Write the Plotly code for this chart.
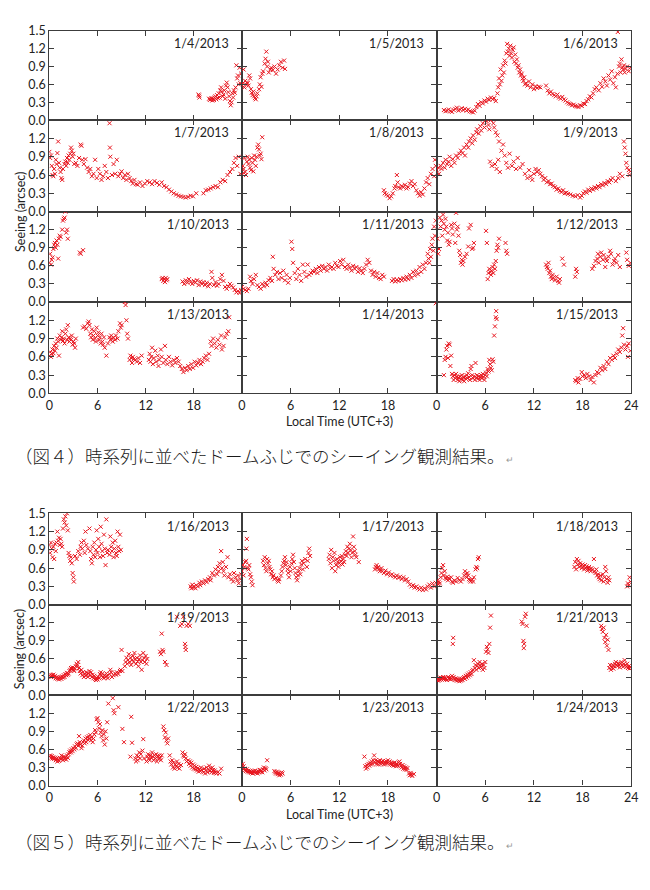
import plotly.graph_objects as go

# seeing (arcsec) against local time (hours, UTC+3), one list per day
jan04 = [(18.6, 0.43), (18.65, 0.41), (18.7, 0.38), (19.9, 0.36), (20.0, 0.34), (20.1, 0.35), (20.2, 0.37),
         (20.3, 0.33), (20.4, 0.36), (20.5, 0.34), (20.6, 0.38), (20.7, 0.40), (20.8, 0.35), (20.9, 0.42),
         (21.0, 0.37), (21.1, 0.45), (21.2, 0.38), (21.3, 0.50), (21.4, 0.55), (21.5, 0.48), (21.6, 0.40),
         (21.7, 0.43), (21.8, 0.50), (21.9, 0.36), (22.0, 0.58), (22.1, 0.63), (22.2, 0.55), (22.3, 0.47),
         (22.4, 0.40), (22.5, 0.32), (22.6, 0.25), (22.7, 0.30), (22.8, 0.45), (22.9, 0.38), (23.0, 0.50),
         (23.1, 0.46), (23.2, 0.55), (23.3, 0.92), (23.4, 0.70), (23.5, 0.75), (23.6, 0.60), (23.7, 0.88),
         (23.8, 0.62), (23.9, 0.78)]
jan05 = [(0.0, 0.58), (0.1, 0.62), (0.2, 0.85), (0.3, 0.55), (0.4, 0.66), (0.5, 0.60), (0.6, 0.63), (0.7, 0.62),
         (0.8, 0.58), (0.9, 0.75), (1.0, 0.70), (1.1, 0.52), (1.2, 0.46), (1.3, 0.42), (1.4, 0.48), (1.5, 0.40),
         (1.6, 0.37), (1.7, 0.35), (1.8, 0.40), (1.9, 0.45), (2.1, 0.52), (2.2, 0.60), (2.3, 0.72), (2.4, 0.56),
         (2.5, 0.78), (2.6, 0.82), (2.8, 0.95), (2.9, 1.03), (3.0, 1.15), (3.1, 0.90), (3.2, 0.98), (3.3, 0.80),
         (3.5, 0.85), (3.6, 0.88), (3.8, 0.84), (4.0, 0.90), (4.2, 0.78), (4.4, 0.85), (4.6, 0.92), (4.8, 0.98),
         (5.0, 0.88), (5.2, 1.00), (5.3, 0.86)]
jan06 = [(0.9, 0.17), (1.1, 0.15), (1.3, 0.16), (1.5, 0.18), (1.7, 0.15), (1.9, 0.14), (2.1, 0.17), (2.3, 0.19),
         (2.5, 0.21), (2.7, 0.16), (2.9, 0.18), (3.1, 0.20), (3.3, 0.17), (3.5, 0.19), (3.7, 0.16), (3.9, 0.18),
         (4.1, 0.15), (4.3, 0.14), (4.5, 0.13), (4.7, 0.16), (4.9, 0.22), (5.1, 0.27), (5.3, 0.24), (5.5, 0.30),
         (5.7, 0.28), (5.9, 0.33), (6.1, 0.31), (6.3, 0.36), (6.5, 0.34), (6.7, 0.38), (6.9, 0.35), (7.1, 0.37),
         (7.3, 0.32), (7.5, 0.45), (7.6, 0.55), (7.7, 0.70), (7.8, 0.60), (7.9, 0.85), (8.0, 0.66), (8.1, 0.75),
         (8.2, 0.92), (8.3, 0.80), (8.4, 1.00), (8.5, 0.95), (8.6, 1.12), (8.7, 1.28), (8.8, 1.15), (8.9, 1.20),
         (9.0, 1.08), (9.1, 1.25), (9.2, 1.12), (9.3, 1.05), (9.4, 1.18), (9.5, 1.22), (9.6, 0.98), (9.7, 1.10),
         (9.8, 0.95), (9.9, 1.02), (10.0, 0.88), (10.1, 0.92), (10.2, 0.80), (10.3, 0.85), (10.4, 0.75),
         (10.5, 0.78), (10.6, 0.70), (10.7, 0.66), (10.8, 0.72), (10.9, 0.60), (11.0, 0.62), (11.2, 0.58),
         (11.4, 0.65), (11.6, 0.55), (11.8, 0.60), (12.0, 0.52), (12.2, 0.57), (12.4, 0.54), (12.6, 0.56),
         (12.8, 0.55), (13.5, 0.58), (13.7, 0.50), (13.9, 0.45), (14.1, 0.48), (14.3, 0.44), (14.5, 0.42),
         (14.7, 0.40), (14.9, 0.43), (15.1, 0.38), (15.3, 0.36), (15.5, 0.39), (15.7, 0.35), (15.9, 0.33),
         (16.1, 0.30), (16.3, 0.28), (16.5, 0.27), (16.7, 0.25), (16.9, 0.26), (17.1, 0.24), (17.3, 0.23),
         (17.5, 0.22), (17.7, 0.25), (17.9, 0.24), (18.1, 0.28), (18.3, 0.27), (18.5, 0.32), (18.7, 0.35),
         (18.9, 0.40), (19.1, 0.38), (19.3, 0.45), (19.5, 0.52), (19.7, 0.55), (20.0, 0.50), (20.2, 0.62),
         (20.4, 0.56), (20.6, 0.70), (20.8, 0.65), (21.0, 0.58), (21.2, 0.75), (21.4, 0.68), (21.6, 0.82),
         (21.8, 0.62), (22.0, 0.72), (22.1, 0.55), (22.3, 0.78), (22.35, 1.48), (22.5, 0.90), (22.6, 0.95),
         (22.7, 0.80), (22.8, 1.02), (22.9, 0.88), (23.0, 0.85), (23.1, 0.92), (23.2, 0.80), (23.3, 0.86),
         (23.5, 0.90), (23.7, 0.82), (23.9, 0.88)]
jan07 = [(0.0, 0.98), (0.1, 0.88), (0.2, 0.92), (0.3, 0.75), (0.4, 0.60), (0.5, 0.58), (0.6, 0.70), (0.7, 0.62),
         (0.8, 0.85), (0.9, 0.78), (1.0, 0.96), (1.1, 1.15), (1.2, 0.80), (1.3, 0.72), (1.4, 0.65), (1.5, 0.55),
         (1.6, 0.52), (1.7, 0.70), (1.9, 0.78), (2.0, 0.82), (2.1, 0.75), (2.2, 0.88), (2.3, 0.80), (2.4, 0.92),
         (2.5, 0.85), (2.6, 0.95), (2.7, 1.05), (2.8, 1.00), (2.9, 0.90), (3.0, 0.95), (3.1, 0.78), (3.3, 0.80),
         (3.5, 0.75), (3.7, 0.88), (3.9, 1.10), (4.0, 1.08), (4.1, 0.85), (4.3, 0.78), (4.5, 0.86), (4.7, 0.72),
         (4.9, 0.65), (5.1, 0.70), (5.3, 0.58), (5.5, 0.62), (5.7, 0.85), (5.9, 0.55), (6.1, 0.70), (6.3, 0.62),
         (6.5, 0.52), (6.7, 0.58), (6.9, 0.75), (7.1, 0.65), (7.3, 0.55), (7.5, 1.45), (7.55, 1.05), (7.6, 0.90),
         (7.8, 0.60), (8.0, 0.78), (8.2, 0.62), (8.4, 0.85), (8.6, 0.58), (8.8, 0.62), (9.0, 0.66), (9.2, 0.55),
         (9.4, 0.60), (9.6, 0.52), (9.8, 0.62), (10.0, 0.55), (10.2, 0.50), (10.4, 0.46), (10.6, 0.52),
         (10.8, 0.45), (11.0, 0.44), (11.3, 0.48), (11.6, 0.42), (11.9, 0.46), (12.2, 0.50), (12.5, 0.48),
         (12.8, 0.45), (13.1, 0.50), (13.4, 0.47), (13.7, 0.44), (14.0, 0.48), (14.3, 0.42), (14.6, 0.40),
         (14.9, 0.36), (15.2, 0.33), (15.5, 0.30), (15.8, 0.28), (16.1, 0.26), (16.4, 0.25), (16.7, 0.24),
         (17.0, 0.23), (17.3, 0.24), (17.6, 0.26), (17.9, 0.25), (18.3, 0.30), (19.2, 0.30), (19.5, 0.35),
         (19.8, 0.36), (20.1, 0.38), (20.4, 0.40), (20.7, 0.42), (21.0, 0.40), (21.3, 0.48), (21.6, 0.52),
         (21.9, 0.50), (22.2, 0.60), (22.5, 0.65), (22.8, 0.70), (23.0, 0.80), (23.2, 0.88), (23.4, 0.75),
         (23.6, 0.90), (23.8, 0.62)]
jan08 = [(0.0, 0.62), (0.1, 0.75), (0.2, 0.70), (0.3, 0.88), (0.4, 0.65), (0.5, 0.60), (0.6, 0.82), (0.7, 0.90),
         (0.8, 0.78), (0.9, 0.85), (1.0, 0.72), (1.1, 0.68), (1.2, 0.88), (1.3, 0.80), (1.4, 0.66), (1.5, 0.92),
         (1.6, 0.85), (1.7, 0.75), (1.8, 0.90), (1.9, 1.05), (2.0, 1.10), (2.1, 1.02), (2.2, 0.92), (2.3, 0.95),
         (2.4, 0.86), (2.5, 1.22), (17.5, 0.35), (17.6, 0.30), (17.8, 0.28), (18.0, 0.26), (18.2, 0.22),
         (18.4, 0.25), (18.6, 0.30), (18.8, 0.38), (18.9, 0.42), (19.1, 0.60), (19.2, 0.48), (19.3, 0.40),
         (19.5, 0.38), (19.7, 0.42), (19.9, 0.40), (20.1, 0.44), (20.3, 0.38), (20.5, 0.40), (20.7, 0.46),
         (20.9, 0.50), (21.1, 0.42), (21.3, 0.45), (21.5, 0.35), (21.7, 0.30), (21.9, 0.26), (22.1, 0.32),
         (22.3, 0.28), (22.5, 0.38), (22.7, 0.48), (22.9, 0.55), (23.1, 0.45), (23.3, 0.62), (23.5, 0.70),
         (23.7, 0.58), (23.8, 0.85), (23.9, 0.75)]
jan09 = [(0.0, 0.68), (0.2, 0.72), (0.3, 0.62), (0.5, 0.75), (0.6, 0.70), (0.8, 0.80), (1.0, 0.72), (1.1, 0.85),
         (1.3, 0.78), (1.5, 0.82), (1.6, 0.90), (1.8, 0.75), (2.0, 0.86), (2.2, 0.80), (2.4, 0.92), (2.6, 0.88),
         (2.8, 0.95), (3.0, 1.00), (3.2, 0.96), (3.4, 1.05), (3.5, 0.92), (3.7, 1.10), (3.9, 1.05), (4.0, 1.15),
         (4.2, 1.20), (4.4, 1.12), (4.5, 1.25), (4.7, 1.18), (4.9, 1.30), (5.0, 1.35), (5.2, 1.28), (5.4, 1.40),
         (5.5, 1.33), (5.7, 1.45), (5.9, 1.38), (6.0, 1.50), (6.2, 1.48), (6.4, 1.42), (6.5, 1.35), (6.7, 1.50),
         (7.0, 1.45), (7.1, 1.38), (7.3, 1.30), (7.5, 1.25), (7.7, 1.15), (6.6, 0.82), (6.8, 0.75), (7.2, 0.78),
         (7.4, 0.70), (7.6, 0.85), (7.8, 0.65), (8.0, 1.00), (8.2, 1.10), (8.4, 0.92), (8.6, 0.80), (8.8, 0.72),
         (9.0, 0.95), (9.3, 0.75), (9.5, 0.82), (9.8, 0.70), (10.0, 0.88), (10.3, 0.72), (10.6, 0.78),
         (10.9, 0.62), (11.2, 0.55), (11.4, 0.68), (11.6, 0.58), (11.8, 0.52), (12.0, 0.62), (12.2, 0.70),
         (12.4, 0.65), (12.6, 0.68), (12.8, 0.62), (13.0, 0.58), (13.2, 0.52), (13.4, 0.55), (13.6, 0.48),
         (13.8, 0.50), (14.0, 0.45), (14.2, 0.46), (14.4, 0.42), (14.6, 0.40), (14.8, 0.36), (15.0, 0.38),
         (15.2, 0.34), (15.4, 0.32), (15.6, 0.35), (15.8, 0.30), (16.0, 0.31), (16.2, 0.29), (16.5, 0.28),
         (16.8, 0.26), (17.1, 0.25), (17.4, 0.27), (17.7, 0.23), (17.9, 0.26), (18.1, 0.30), (18.3, 0.33),
         (18.5, 0.31), (18.7, 0.36), (18.9, 0.34), (19.1, 0.38), (19.3, 0.36), (19.5, 0.40), (19.7, 0.38),
         (19.9, 0.42), (20.1, 0.40), (20.3, 0.45), (20.5, 0.43), (20.7, 0.47), (20.9, 0.45), (21.1, 0.50),
         (21.3, 0.48), (21.5, 0.52), (21.7, 0.55), (22.1, 0.50), (22.4, 0.55), (22.6, 0.62), (22.9, 0.58),
         (23.1, 1.15), (23.2, 1.05), (23.3, 0.95), (23.4, 0.80), (23.5, 0.72), (23.7, 0.68), (23.8, 0.60),
         (23.9, 0.66)]
jan10 = [(0.0, 0.65), (0.1, 0.80), (0.2, 0.62), (0.3, 0.70), (0.4, 0.74), (0.5, 0.88), (0.6, 0.95), (0.7, 0.98),
         (0.8, 0.90), (0.9, 1.02), (1.0, 0.95), (1.1, 0.72), (1.2, 1.05), (1.3, 1.10), (1.4, 1.08), (1.6, 1.20),
         (1.7, 1.35), (1.8, 1.38), (1.9, 1.40), (2.0, 1.50), (2.1, 1.15), (2.2, 1.20), (2.3, 1.05), (3.8, 0.82),
         (3.9, 0.80), (4.2, 0.86), (14.0, 0.38), (14.1, 0.40), (14.2, 0.35), (14.3, 0.38), (14.4, 0.33),
         (14.5, 0.40), (14.6, 0.36), (14.7, 0.38), (16.6, 0.34), (16.8, 0.30), (17.0, 0.36), (17.2, 0.32),
         (17.4, 0.38), (17.6, 0.33), (17.8, 0.30), (18.0, 0.35), (18.2, 0.32), (18.4, 0.36), (18.6, 0.28),
         (18.8, 0.34), (19.0, 0.30), (19.2, 0.33), (19.4, 0.28), (19.6, 0.32), (19.8, 0.26), (20.0, 0.30),
         (20.2, 0.50), (20.3, 0.40), (20.5, 0.28), (20.7, 0.33), (20.9, 0.27), (21.1, 0.30), (21.3, 0.38),
         (21.5, 0.45), (21.7, 0.35), (21.9, 0.25), (22.1, 0.22), (22.3, 0.26), (22.5, 0.30), (22.7, 0.27),
         (22.9, 0.24), (23.1, 0.20), (23.3, 0.16), (23.5, 0.18), (23.7, 0.15), (23.9, 0.20)]
jan11 = [(0.0, 0.25), (0.2, 0.22), (0.4, 0.20), (0.6, 0.18), (0.8, 0.22), (1.0, 0.42), (1.1, 0.35), (1.3, 0.30),
         (1.5, 0.38), (1.7, 0.45), (1.9, 0.28), (2.1, 0.25), (2.3, 0.22), (2.5, 0.30), (2.7, 0.26), (2.9, 0.32),
         (3.1, 0.28), (3.3, 0.36), (3.5, 0.40), (3.7, 0.35), (3.8, 0.75), (3.9, 0.55), (4.1, 0.45), (4.3, 0.50),
         (4.5, 0.38), (4.7, 0.48), (4.9, 0.40), (5.1, 0.52), (5.3, 0.36), (5.5, 0.45), (5.7, 0.32), (5.9, 0.40),
         (6.1, 1.00), (6.2, 0.88), (6.3, 0.65), (6.5, 0.48), (6.7, 0.38), (6.9, 0.55), (7.1, 0.45), (7.3, 0.35),
         (7.5, 0.62), (7.7, 0.50), (7.9, 0.42), (8.1, 0.62), (8.3, 0.45), (8.5, 0.48), (8.7, 0.52), (8.9, 0.50),
         (9.1, 0.55), (9.3, 0.48), (9.5, 0.58), (9.7, 0.52), (9.9, 0.60), (10.1, 0.55), (10.3, 0.58),
         (10.5, 0.52), (10.7, 0.62), (10.9, 0.56), (11.1, 0.58), (11.3, 0.55), (11.5, 0.65), (11.7, 0.60),
         (11.9, 0.58), (12.1, 0.68), (12.3, 0.62), (12.5, 0.70), (12.7, 0.58), (12.9, 0.55), (13.1, 0.62),
         (13.3, 0.57), (13.5, 0.52), (13.7, 0.60), (13.9, 0.55), (14.1, 0.58), (14.3, 0.50), (14.5, 0.56),
         (14.7, 0.52), (14.9, 0.48), (15.1, 0.55), (15.3, 0.62), (15.5, 0.70), (15.7, 0.65), (15.9, 0.52),
         (16.1, 0.45), (16.3, 0.50), (16.5, 0.42), (16.7, 0.48), (16.9, 0.40), (17.1, 0.38), (17.3, 0.45),
         (17.5, 0.42), (18.5, 0.35), (18.7, 0.38), (18.9, 0.34), (19.1, 0.37), (19.3, 0.35), (19.5, 0.38),
         (19.7, 0.36), (19.9, 0.40), (20.1, 0.37), (20.3, 0.42), (20.5, 0.38), (20.7, 0.45), (20.9, 0.40),
         (21.1, 0.50), (21.3, 0.44), (21.5, 0.52), (21.7, 0.46), (21.9, 0.58), (22.1, 0.50), (22.3, 0.62),
         (22.5, 0.55), (22.7, 0.65), (22.9, 0.80), (23.0, 0.72), (23.1, 0.65), (23.2, 0.88), (23.3, 0.75),
         (23.4, 0.95), (23.5, 1.05), (23.6, 0.85), (23.7, 1.25), (23.8, 1.10), (23.9, 1.35)]
jan12 = [(0.1, 1.05), (0.2, 0.80), (0.3, 0.88), (0.4, 1.40), (0.5, 1.25), (0.6, 1.35), (0.7, 1.10), (0.8, 1.45),
         (0.9, 1.30), (1.0, 1.20), (1.1, 1.38), (1.2, 1.25), (1.3, 1.02), (1.4, 1.15), (1.5, 0.95), (1.6, 1.00),
         (1.8, 1.28), (1.9, 1.22), (2.0, 1.12), (2.2, 1.30), (2.3, 0.98), (2.4, 1.48), (2.5, 1.20), (2.6, 1.25),
         (2.7, 1.10), (2.8, 0.85), (2.9, 0.78), (3.0, 0.65), (3.1, 0.70), (3.2, 0.62), (3.3, 0.68), (3.5, 0.75),
         (3.7, 0.80), (3.9, 0.92), (4.0, 1.22), (4.2, 1.28), (4.4, 0.88), (4.5, 0.90), (4.6, 0.98), (6.1, 1.18),
         (6.2, 0.98), (6.3, 0.38), (6.4, 0.48), (6.5, 0.55), (6.6, 0.50), (6.7, 0.45), (6.8, 0.52), (6.9, 0.58),
         (7.0, 0.48), (7.1, 0.62), (7.2, 0.55), (7.3, 0.68), (7.4, 0.85), (7.5, 0.95), (7.6, 0.90), (7.7, 1.05),
         (8.5, 0.98), (8.6, 0.85), (8.7, 0.80), (13.5, 0.62), (13.6, 0.58), (13.7, 0.55), (13.8, 0.65),
         (13.9, 0.48), (14.0, 0.52), (14.1, 0.42), (14.2, 0.38), (14.3, 0.45), (14.4, 0.40), (14.6, 0.36),
         (14.8, 0.42), (15.0, 0.35), (15.1, 0.32), (15.2, 0.38), (15.5, 0.72), (15.7, 0.62), (17.1, 0.42),
         (17.2, 0.55), (17.3, 0.50), (19.2, 0.55), (19.4, 0.60), (19.6, 0.68), (19.8, 0.72), (19.9, 0.80),
         (20.0, 0.65), (20.2, 0.75), (20.3, 0.82), (20.5, 0.70), (20.6, 0.78), (20.8, 0.58), (20.9, 0.72),
         (21.0, 0.68), (21.2, 0.75), (21.4, 0.85), (21.5, 0.80), (21.7, 0.62), (21.9, 0.68), (22.0, 0.72),
         (22.2, 0.65), (22.4, 0.78), (22.6, 0.58), (23.4, 0.82), (23.5, 0.70), (23.7, 0.60), (23.9, 0.65)]
jan13 = [(0.0, 0.62), (0.1, 0.68), (0.2, 0.60), (0.3, 0.65), (0.4, 0.72), (0.5, 0.66), (0.6, 0.78), (0.7, 0.70),
         (0.8, 0.82), (0.9, 0.75), (1.0, 0.90), (1.1, 0.85), (1.2, 0.62), (1.3, 0.95), (1.4, 0.88), (1.5, 0.92),
         (1.6, 1.02), (1.7, 0.86), (1.8, 0.90), (1.9, 0.82), (2.0, 0.98), (2.1, 1.05), (2.2, 0.88), (2.3, 1.12),
         (2.4, 0.92), (2.5, 0.85), (2.6, 0.90), (2.7, 0.88), (2.8, 0.95), (2.9, 0.80), (3.0, 0.85), (3.1, 0.82),
         (3.2, 0.75), (3.3, 0.90), (4.2, 1.08), (4.4, 1.10), (4.6, 1.06), (4.8, 1.15), (4.9, 1.18), (5.0, 1.12),
         (5.1, 0.98), (5.2, 0.92), (5.3, 1.05), (5.4, 0.88), (5.5, 0.95), (5.6, 1.02), (5.7, 0.90), (5.8, 0.85),
         (5.9, 1.08), (6.0, 0.95), (6.1, 1.00), (6.2, 0.88), (6.3, 0.92), (6.4, 0.82), (6.5, 0.98), (6.6, 0.85),
         (6.7, 0.80), (6.8, 0.92), (6.9, 0.75), (7.1, 0.62), (7.3, 0.82), (7.5, 0.92), (7.6, 0.88), (7.7, 0.95),
         (7.8, 0.90), (7.9, 0.85), (8.0, 0.92), (8.2, 0.88), (8.3, 0.95), (8.5, 0.90), (8.6, 1.02), (8.8, 1.15),
         (8.9, 1.08), (9.0, 1.12), (9.4, 1.50), (9.5, 1.45), (9.6, 1.20), (9.7, 0.98), (9.8, 0.90), (10.0, 0.55),
         (10.1, 0.62), (10.2, 0.58), (10.3, 0.50), (10.4, 0.60), (10.5, 0.56), (10.7, 0.55), (10.9, 0.52),
         (11.1, 0.58), (11.3, 0.50), (11.5, 0.62), (12.4, 0.55), (12.5, 0.65), (12.6, 0.52), (12.7, 0.60),
         (12.8, 0.75), (12.9, 0.48), (13.0, 0.58), (13.2, 0.70), (13.3, 0.52), (13.5, 0.62), (13.6, 0.45),
         (13.7, 0.55), (13.9, 0.72), (14.0, 0.60), (14.2, 0.50), (14.4, 0.78), (14.5, 0.55), (14.7, 0.48),
         (14.9, 0.60), (15.1, 0.52), (15.3, 0.46), (15.5, 0.55), (15.7, 0.50), (15.9, 0.58), (16.1, 0.52),
         (16.3, 0.45), (16.5, 0.40), (16.7, 0.35), (16.9, 0.42), (17.1, 0.38), (17.3, 0.45), (17.5, 0.40),
         (17.7, 0.48), (17.9, 0.42), (18.1, 0.52), (18.3, 0.46), (18.5, 0.50), (18.7, 0.55), (18.9, 0.48),
         (19.1, 0.52), (19.3, 0.58), (19.5, 0.62), (19.7, 0.55), (19.9, 0.65), (20.1, 0.85), (20.2, 0.78),
         (20.4, 0.90), (20.6, 0.82), (20.8, 0.75), (21.0, 0.88), (21.2, 0.80), (21.4, 0.95), (21.5, 0.72),
         (21.7, 0.78), (21.9, 0.92), (22.1, 0.98), (22.3, 1.02), (22.4, 1.25)]
jan14 = [(23.9, 1.48)]
jan15 = [(0.9, 0.30), (1.0, 0.55), (1.1, 0.60), (1.2, 0.72), (1.3, 0.78), (1.4, 0.58), (1.5, 0.82), (1.6, 0.80),
         (1.7, 0.45), (1.8, 0.62), (1.9, 0.32), (2.0, 0.28), (2.1, 0.22), (2.2, 0.30), (2.3, 0.25), (2.4, 0.32),
         (2.5, 0.27), (2.6, 0.22), (2.7, 0.26), (2.8, 0.20), (2.9, 0.28), (3.0, 0.24), (3.1, 0.30), (3.2, 0.22),
         (3.3, 0.26), (3.4, 0.20), (3.5, 0.28), (3.6, 0.24), (3.7, 0.30), (3.8, 0.25), (3.9, 0.33), (4.0, 0.27),
         (4.1, 0.22), (4.2, 0.40), (4.3, 0.45), (4.4, 0.30), (4.5, 0.25), (4.6, 0.28), (4.7, 0.22), (4.8, 0.50),
         (4.9, 0.26), (5.0, 0.30), (5.1, 0.24), (5.2, 0.28), (5.3, 0.22), (5.4, 0.26), (5.5, 0.30), (5.6, 0.25),
         (5.7, 0.32), (5.8, 0.27), (5.9, 0.22), (6.0, 0.30), (6.1, 0.34), (6.2, 0.28), (6.3, 0.40), (6.4, 0.36),
         (6.5, 0.55), (6.6, 0.48), (6.7, 0.42), (6.8, 0.38), (6.9, 0.56), (7.0, 0.52), (7.1, 0.95), (7.2, 1.10),
         (7.3, 1.25), (7.35, 1.35), (7.4, 1.22), (17.1, 0.22), (17.2, 0.20), (17.4, 0.25), (17.5, 0.18),
         (17.7, 0.24), (17.9, 0.35), (18.0, 0.28), (18.2, 0.30), (18.4, 0.25), (18.6, 0.32), (18.8, 0.28),
         (19.0, 0.22), (19.2, 0.27), (19.4, 0.18), (19.6, 0.30), (19.8, 0.35), (20.0, 0.33), (20.2, 0.42),
         (20.4, 0.38), (20.6, 0.45), (20.8, 0.40), (21.0, 0.52), (21.2, 0.48), (21.4, 0.58), (21.6, 0.55),
         (21.8, 0.62), (22.0, 0.58), (22.2, 0.65), (22.4, 0.72), (22.6, 0.68), (22.8, 0.75), (22.9, 0.95),
         (23.0, 1.07), (23.1, 0.80), (23.3, 0.72), (23.5, 0.78), (23.6, 0.60), (23.7, 0.82), (23.9, 0.70)]
jan16 = [(0.0, 0.98), (0.1, 0.85), (0.2, 1.02), (0.3, 0.92), (0.4, 0.78), (0.5, 0.95), (0.6, 0.75), (0.7, 1.00),
         (0.8, 0.88), (0.9, 1.02), (1.0, 1.20), (1.1, 1.05), (1.2, 1.10), (1.3, 0.98), (1.4, 1.08), (1.5, 1.00),
         (1.6, 0.95), (1.7, 1.25), (1.8, 1.40), (1.9, 1.35), (2.0, 1.45), (2.1, 1.30), (2.2, 1.50), (2.3, 1.22),
         (2.4, 0.85), (2.5, 0.80), (2.6, 0.72), (2.7, 0.78), (2.8, 0.68), (2.9, 0.52), (3.0, 0.45), (3.05, 0.38),
         (3.2, 0.80), (3.4, 0.75), (3.6, 0.88), (3.8, 0.82), (3.9, 0.95), (4.0, 1.02), (4.1, 0.92), (4.3, 1.05),
         (4.4, 0.85), (4.5, 1.20), (4.6, 0.98), (4.8, 0.92), (5.0, 1.25), (5.1, 0.88), (5.2, 0.75), (5.3, 0.68),
         (5.4, 0.95), (5.5, 0.82), (5.6, 1.02), (5.7, 0.78), (5.8, 0.90), (5.9, 1.22), (6.0, 0.85), (6.1, 1.08),
         (6.2, 0.95), (6.3, 0.78), (6.4, 1.28), (6.5, 1.00), (6.6, 0.88), (6.7, 0.80), (6.8, 1.15), (6.9, 0.92),
         (7.0, 0.65), (7.1, 1.40), (7.2, 0.85), (7.3, 0.90), (7.5, 0.82), (7.6, 1.12), (7.7, 0.95), (7.8, 0.88),
         (7.9, 1.02), (8.0, 0.78), (8.1, 0.92), (8.2, 1.05), (8.3, 0.85), (8.4, 0.80), (8.5, 1.20), (8.6, 0.95),
         (8.7, 0.88), (8.8, 1.15), (8.9, 0.90), (17.6, 0.30), (17.7, 0.27), (17.8, 0.33), (17.9, 0.28),
         (18.0, 0.30), (18.2, 0.27), (18.3, 0.32), (18.5, 0.30), (18.7, 0.36), (18.8, 0.32), (19.0, 0.38),
         (19.2, 0.35), (19.4, 0.40), (19.6, 0.37), (19.8, 0.42), (20.0, 0.45), (20.1, 0.40), (20.3, 0.52),
         (20.5, 0.48), (20.7, 0.58), (20.9, 0.50), (21.0, 0.62), (21.1, 0.55), (21.2, 0.68), (21.4, 0.88),
         (21.5, 0.60), (21.6, 0.70), (21.7, 0.55), (21.8, 0.48), (22.0, 0.62), (22.2, 0.78), (22.3, 0.45),
         (22.5, 0.50), (22.7, 0.42), (22.9, 0.38), (23.0, 0.52), (23.2, 0.45), (23.4, 0.40), (23.5, 0.48),
         (23.6, 0.35), (23.8, 0.42), (23.9, 0.50)]
jan17 = [(0.0, 0.55), (0.1, 0.65), (0.2, 0.48), (0.3, 0.62), (0.4, 0.70), (0.5, 0.72), (0.55, 0.92), (0.6, 1.08),
         (0.7, 0.60), (0.8, 0.58), (0.9, 0.65), (1.0, 0.50), (1.1, 0.45), (1.2, 0.38), (1.3, 0.32), (2.6, 0.72),
         (2.7, 0.65), (2.8, 0.78), (2.9, 0.60), (3.0, 0.55), (3.1, 0.75), (3.2, 0.68), (3.3, 0.72), (3.4, 0.62),
         (3.5, 0.58), (3.6, 0.50), (3.7, 0.55), (3.8, 0.45), (3.9, 0.48), (4.0, 0.42), (4.2, 0.44), (4.4, 0.40),
         (4.5, 0.38), (4.6, 0.42), (4.8, 0.48), (4.9, 0.55), (5.0, 0.62), (5.1, 0.68), (5.2, 0.72), (5.3, 0.78),
         (5.4, 0.65), (5.5, 0.70), (5.6, 0.58), (5.7, 0.52), (5.8, 0.45), (5.9, 0.62), (6.0, 0.55), (6.1, 0.68),
         (6.2, 0.75), (6.3, 0.82), (6.4, 0.70), (6.5, 0.60), (6.6, 0.52), (6.7, 0.45), (6.8, 0.40), (6.9, 0.48),
         (7.0, 0.55), (7.1, 0.60), (7.2, 0.50), (7.3, 0.66), (7.4, 0.72), (7.5, 0.58), (7.6, 0.68), (7.8, 0.75),
         (8.0, 0.62), (8.1, 0.72), (8.2, 0.85), (8.3, 0.92), (8.4, 0.80), (10.7, 0.75), (10.8, 0.82), (10.9, 0.68),
         (11.0, 0.90), (11.1, 0.60), (11.2, 0.78), (11.3, 0.72), (11.4, 0.85), (11.5, 0.55), (11.6, 0.65),
         (11.7, 0.75), (11.8, 0.70), (11.9, 0.62), (12.0, 0.68), (12.1, 0.78), (12.2, 0.72), (12.3, 0.80),
         (12.4, 0.66), (12.5, 0.75), (12.6, 0.70), (12.7, 0.82), (12.8, 0.88), (12.9, 0.80), (13.0, 0.95),
         (13.1, 0.85), (13.2, 0.92), (13.3, 1.00), (13.4, 0.90), (13.5, 0.78), (13.6, 0.85), (13.7, 1.12),
         (13.8, 0.95), (13.9, 0.88), (14.0, 0.82), (14.1, 0.78), (14.4, 0.70), (16.4, 0.58), (16.5, 0.62),
         (16.6, 0.65), (16.7, 0.60), (16.8, 0.62), (16.9, 0.58), (17.0, 0.55), (17.2, 0.60), (17.3, 0.55),
         (17.5, 0.52), (17.7, 0.56), (17.9, 0.50), (18.1, 0.53), (18.3, 0.48), (18.5, 0.50), (18.7, 0.47),
         (18.9, 0.45), (19.1, 0.48), (19.3, 0.44), (19.5, 0.46), (19.7, 0.42), (19.9, 0.45), (20.1, 0.40),
         (20.3, 0.42), (20.5, 0.38), (20.7, 0.33), (20.9, 0.30), (21.1, 0.32), (21.3, 0.28), (21.5, 0.30),
         (21.7, 0.27), (21.9, 0.25), (22.1, 0.28), (22.3, 0.24), (22.5, 0.27), (22.7, 0.25), (22.9, 0.30),
         (23.1, 0.33), (23.3, 0.28), (23.5, 0.35), (23.7, 0.30), (23.9, 0.36)]
jan18 = [(0.0, 0.36), (0.1, 0.40), (0.2, 0.34), (0.3, 0.38), (0.4, 0.35), (0.5, 0.45), (0.6, 0.52), (0.7, 0.60),
         (0.8, 0.65), (0.9, 0.48), (1.0, 0.55), (1.1, 0.44), (1.2, 0.42), (1.3, 0.46), (1.4, 0.40), (1.5, 0.44),
         (1.6, 0.42), (1.8, 0.45), (1.9, 0.38), (2.0, 0.36), (2.2, 0.40), (2.4, 0.38), (2.6, 0.44), (2.8, 0.40),
         (3.0, 0.38), (3.2, 0.42), (3.4, 0.48), (3.5, 0.55), (3.6, 0.50), (3.7, 0.45), (3.8, 0.52), (3.9, 0.48),
         (4.0, 0.42), (4.1, 0.40), (4.2, 0.38), (4.4, 0.41), (4.5, 0.38), (4.6, 0.45), (4.8, 0.58), (4.9, 0.62),
         (5.0, 0.60), (5.1, 0.75), (5.2, 0.78), (17.0, 0.62), (17.1, 0.70), (17.2, 0.58), (17.3, 0.75),
         (17.4, 0.66), (17.5, 0.72), (17.6, 0.62), (17.7, 0.68), (17.8, 0.64), (17.9, 0.60), (18.0, 0.66),
         (18.1, 0.62), (18.2, 0.58), (18.3, 0.65), (18.4, 0.60), (18.5, 0.63), (18.6, 0.56), (18.7, 0.60),
         (18.8, 0.62), (18.9, 0.58), (19.0, 0.55), (19.1, 0.60), (19.2, 0.57), (19.4, 0.75), (19.5, 0.55),
         (19.6, 0.52), (19.7, 0.58), (19.8, 0.48), (19.9, 0.50), (20.0, 0.45), (20.1, 0.42), (20.2, 0.48),
         (20.3, 0.40), (20.5, 0.50), (20.6, 0.38), (20.7, 0.45), (20.8, 0.62), (20.9, 0.55), (21.0, 0.42),
         (21.1, 0.36), (21.2, 0.45), (21.3, 0.40), (23.5, 0.30), (23.6, 0.35), (23.7, 0.32), (23.8, 0.45),
         (23.9, 0.38)]
jan19 = [(0.0, 0.32), (0.1, 0.34), (0.2, 0.30), (0.3, 0.33), (0.4, 0.31), (0.5, 0.34), (0.6, 0.30), (0.7, 0.32),
         (0.8, 0.28), (0.9, 0.30), (1.0, 0.27), (1.1, 0.29), (1.2, 0.26), (1.3, 0.28), (1.4, 0.30), (1.5, 0.27),
         (1.6, 0.31), (1.7, 0.29), (1.8, 0.33), (1.9, 0.30), (2.0, 0.35), (2.1, 0.33), (2.2, 0.37), (2.3, 0.34),
         (2.4, 0.36), (2.5, 0.40), (2.6, 0.42), (2.7, 0.45), (2.8, 0.43), (2.9, 0.46), (3.0, 0.42), (3.1, 0.40),
         (3.2, 0.44), (3.3, 0.48), (3.4, 0.52), (3.5, 0.50), (3.6, 0.55), (3.7, 0.45), (3.8, 0.40), (3.9, 0.36),
         (4.0, 0.42), (4.1, 0.33), (4.2, 0.38), (4.3, 0.30), (4.4, 0.35), (4.5, 0.32), (4.6, 0.38), (4.7, 0.34),
         (4.8, 0.30), (4.9, 0.36), (5.0, 0.40), (5.1, 0.33), (5.2, 0.38), (5.3, 0.30), (5.4, 0.34), (5.5, 0.28),
         (5.6, 0.32), (5.7, 0.27), (5.8, 0.25), (5.9, 0.28), (6.0, 0.26), (6.1, 0.30), (6.2, 0.28), (6.3, 0.35),
         (6.4, 0.38), (6.5, 0.32), (6.6, 0.36), (6.7, 0.30), (6.8, 0.28), (6.9, 0.33), (7.0, 0.30), (7.1, 0.36),
         (7.2, 0.32), (7.3, 0.28), (7.5, 0.35), (7.6, 0.42), (7.7, 0.38), (7.8, 0.30), (8.0, 0.33), (8.2, 0.36),
         (8.3, 0.34), (8.4, 0.38), (8.6, 0.35), (8.8, 0.40), (8.9, 0.42), (9.0, 0.75), (9.1, 0.40), (9.4, 0.48),
         (9.5, 0.55), (9.6, 0.62), (9.7, 0.52), (9.8, 0.58), (9.9, 0.68), (10.0, 0.55), (10.1, 0.62),
         (10.2, 0.50), (10.3, 0.58), (10.4, 0.65), (10.5, 0.55), (10.6, 0.70), (10.7, 0.60), (10.8, 0.52),
         (10.9, 0.62), (11.0, 0.56), (11.1, 0.48), (11.2, 0.60), (11.3, 0.66), (11.4, 0.55), (11.5, 0.42),
         (11.6, 0.58), (11.7, 0.70), (11.8, 0.62), (11.9, 0.55), (12.0, 0.65), (12.1, 0.52), (12.2, 0.60),
         (13.8, 0.72), (13.9, 0.68), (14.0, 1.02), (14.1, 0.75), (14.2, 0.72), (14.4, 0.55), (14.6, 0.50),
         (15.9, 1.30), (16.3, 1.15), (16.5, 1.18), (16.7, 1.30), (16.9, 0.85), (16.95, 0.80), (17.0, 0.75),
         (17.1, 1.15), (17.3, 1.18), (17.5, 1.15)]
jan20 = []
jan21 = [(0.0, 0.25), (0.1, 0.28), (0.2, 0.24), (0.3, 0.27), (0.4, 0.25), (0.5, 0.29), (0.6, 0.26), (0.7, 0.28),
         (0.8, 0.30), (0.9, 0.27), (1.0, 0.29), (1.1, 0.26), (1.2, 0.28), (1.3, 0.25), (1.4, 0.30), (1.5, 0.27),
         (1.6, 0.29), (1.7, 0.26), (1.8, 0.28), (1.9, 0.32), (2.0, 0.85), (2.05, 0.95), (2.1, 0.30), (2.2, 0.27),
         (2.3, 0.25), (2.4, 0.28), (2.5, 0.24), (2.6, 0.27), (2.7, 0.25), (2.8, 0.23), (2.9, 0.26), (3.0, 0.24),
         (3.1, 0.27), (3.2, 0.25), (3.3, 0.28), (3.4, 0.30), (3.5, 0.27), (3.6, 0.32), (3.7, 0.29), (3.8, 0.34),
         (3.9, 0.31), (4.0, 0.36), (4.1, 0.33), (4.2, 0.38), (4.3, 0.35), (4.4, 0.40), (4.5, 0.42), (4.6, 0.58),
         (4.7, 0.45), (4.8, 0.50), (4.9, 0.42), (5.0, 0.48), (5.1, 0.52), (5.2, 0.45), (5.3, 0.55), (5.4, 0.50),
         (5.5, 0.47), (5.6, 0.52), (5.7, 0.42), (5.8, 0.50), (5.9, 0.45), (6.0, 0.55), (6.1, 0.72), (6.2, 0.80),
         (6.3, 0.76), (6.4, 0.70), (6.5, 0.85), (6.6, 1.12), (6.7, 1.32), (10.5, 1.22), (10.6, 1.18),
         (10.7, 0.90), (10.75, 0.78), (10.8, 0.85), (10.9, 1.30), (11.0, 1.35), (11.1, 1.15), (20.3, 1.15),
         (20.4, 1.10), (20.5, 1.05), (20.6, 1.12), (20.7, 0.95), (20.8, 0.88), (20.9, 1.00), (21.0, 0.82),
         (21.1, 0.92), (21.2, 0.75), (21.3, 0.45), (21.4, 0.50), (21.5, 0.42), (21.6, 0.46), (21.7, 0.50),
         (21.8, 0.44), (21.9, 0.48), (22.0, 0.52), (22.1, 0.55), (22.2, 0.50), (22.3, 0.48), (22.4, 0.53),
         (22.5, 0.50), (22.6, 0.46), (22.7, 0.52), (22.8, 0.55), (22.9, 0.50), (23.0, 0.47), (23.1, 0.52),
         (23.2, 0.58), (23.3, 0.50), (23.4, 0.47), (23.5, 0.52), (23.6, 0.45), (23.7, 0.48), (23.8, 0.44),
         (23.9, 0.47)]
jan22 = [(0.0, 0.48), (0.1, 0.50), (0.2, 0.46), (0.3, 0.49), (0.4, 0.45), (0.5, 0.47), (0.6, 0.44), (0.7, 0.46),
         (0.8, 0.42), (0.9, 0.45), (1.0, 0.40), (1.1, 0.43), (1.2, 0.41), (1.3, 0.46), (1.4, 0.44), (1.5, 0.50),
         (1.6, 0.45), (1.7, 0.42), (1.8, 0.48), (1.9, 0.44), (2.0, 0.47), (2.1, 0.43), (2.2, 0.50), (2.3, 0.46),
         (2.4, 0.52), (2.5, 0.55), (2.6, 0.58), (2.7, 0.55), (2.8, 0.60), (2.9, 0.57), (3.0, 0.62), (3.1, 0.60),
         (3.2, 0.65), (3.3, 0.62), (3.4, 0.68), (3.5, 0.70), (3.6, 0.66), (3.7, 0.82), (3.8, 0.72), (3.9, 0.68),
         (4.0, 0.62), (4.1, 0.66), (4.2, 0.72), (4.3, 0.75), (4.4, 0.70), (4.5, 0.78), (4.6, 0.72), (4.7, 0.80),
         (4.8, 0.76), (4.9, 0.82), (5.0, 0.78), (5.1, 0.84), (5.2, 0.75), (5.3, 0.80), (5.4, 0.72), (5.5, 0.78),
         (5.6, 0.85), (5.7, 0.92), (5.8, 0.88), (5.9, 1.10), (6.0, 1.12), (6.1, 1.05), (6.2, 0.95), (6.3, 1.02),
         (6.4, 0.88), (6.5, 0.82), (6.6, 0.92), (6.7, 0.75), (6.8, 0.85), (6.9, 0.68), (7.0, 0.90), (7.1, 0.78),
         (7.2, 1.05), (7.35, 1.36), (7.9, 1.45), (8.0, 1.25), (8.1, 1.20), (8.6, 1.30), (9.1, 0.94), (9.3, 0.72),
         (10.1, 0.48), (10.2, 1.14), (10.3, 0.71), (10.7, 0.45), (10.8, 0.40), (10.9, 0.50), (11.0, 0.42),
         (11.1, 0.48), (11.2, 0.55), (11.3, 0.45), (11.4, 0.52), (11.6, 0.58), (11.7, 0.77), (11.8, 0.45),
         (12.1, 0.40), (12.2, 0.48), (12.3, 0.52), (12.4, 0.45), (12.5, 0.42), (12.6, 0.50), (12.7, 0.46),
         (12.8, 0.55), (12.9, 0.48), (13.0, 0.42), (13.1, 0.50), (13.2, 0.45), (13.3, 0.52), (13.4, 0.40),
         (13.5, 0.48), (13.6, 0.44), (13.7, 0.50), (13.8, 0.46), (13.9, 0.42), (14.0, 0.50), (14.2, 0.98),
         (14.3, 0.92), (14.4, 0.80), (14.5, 0.88), (14.6, 0.75), (14.7, 0.70), (14.8, 0.78), (15.0, 0.50),
         (15.1, 0.40), (15.2, 0.35), (15.3, 0.42), (15.4, 0.30), (15.5, 0.38), (15.6, 0.28), (15.7, 0.35),
         (15.8, 0.32), (15.9, 0.40), (16.0, 0.30), (16.1, 0.36), (16.2, 0.28), (16.4, 0.34), (16.6, 0.55),
         (16.7, 0.50), (16.8, 0.48), (16.9, 0.52), (17.0, 0.45), (17.1, 0.40), (17.3, 0.42), (17.4, 0.36),
         (17.5, 0.40), (17.6, 0.33), (17.7, 0.38), (17.8, 0.30), (17.9, 0.35), (18.0, 0.28), (18.1, 0.33),
         (18.2, 0.27), (18.3, 0.31), (18.4, 0.25), (18.5, 0.29), (18.6, 0.23), (18.7, 0.27), (18.8, 0.24),
         (18.9, 0.30), (19.0, 0.26), (19.2, 0.22), (19.3, 0.28), (19.4, 0.20), (19.5, 0.25), (19.6, 0.30),
         (19.7, 0.22), (19.8, 0.27), (19.9, 0.33), (20.0, 0.24), (20.1, 0.28), (20.2, 0.22), (20.3, 0.30),
         (20.4, 0.26), (20.5, 0.21), (20.6, 0.25), (20.7, 0.22), (20.8, 0.20), (21.0, 0.22), (21.2, 0.20),
         (21.4, 0.28)]
jan23 = [(0.0, 0.30), (0.1, 0.36), (0.2, 0.32), (0.3, 0.28), (0.4, 0.26), (0.5, 0.24), (0.6, 0.27), (0.7, 0.23),
         (0.8, 0.25), (0.9, 0.22), (1.0, 0.24), (1.1, 0.21), (1.2, 0.23), (1.3, 0.20), (1.4, 0.24), (1.5, 0.22),
         (1.6, 0.25), (1.7, 0.21), (1.8, 0.23), (1.9, 0.20), (2.0, 0.24), (2.1, 0.22), (2.2, 0.26), (2.3, 0.23),
         (2.4, 0.25), (2.5, 0.22), (2.6, 0.27), (2.7, 0.30), (2.8, 0.25), (2.9, 0.29), (3.0, 0.27), (3.1, 0.42),
         (4.0, 0.24), (4.1, 0.22), (4.2, 0.20), (4.3, 0.23), (4.4, 0.19), (4.5, 0.21), (4.6, 0.17), (4.7, 0.20),
         (4.8, 0.18), (4.9, 0.22), (5.0, 0.20), (15.1, 0.48), (15.2, 0.32), (15.3, 0.28), (15.4, 0.34),
         (15.5, 0.30), (15.6, 0.36), (15.7, 0.33), (15.8, 0.38), (15.9, 0.35), (16.0, 0.40), (16.1, 0.36),
         (16.2, 0.42), (16.3, 0.50), (16.4, 0.38), (16.5, 0.42), (16.6, 0.36), (16.7, 0.40), (16.8, 0.35),
         (16.9, 0.39), (17.0, 0.42), (17.1, 0.36), (17.2, 0.40), (17.3, 0.37), (17.4, 0.41), (17.5, 0.35),
         (17.6, 0.39), (17.7, 0.36), (17.8, 0.40), (17.9, 0.37), (18.0, 0.42), (18.1, 0.38), (18.2, 0.40),
         (18.3, 0.35), (18.4, 0.38), (18.5, 0.34), (18.6, 0.37), (18.7, 0.33), (18.8, 0.38), (18.9, 0.35),
         (19.0, 0.32), (19.1, 0.36), (19.2, 0.33), (19.3, 0.38), (19.4, 0.40), (19.5, 0.36), (19.6, 0.33),
         (19.7, 0.30), (19.8, 0.34), (19.9, 0.28), (20.0, 0.32), (20.1, 0.27), (20.2, 0.30), (20.3, 0.26),
         (20.4, 0.29), (20.6, 0.20), (20.7, 0.17), (20.8, 0.21), (20.9, 0.18), (21.0, 0.16), (21.2, 0.19)]
jan24 = []

fig4_days = [("1/4/2013", jan04), ("1/5/2013", jan05), ("1/6/2013", jan06),
             ("1/7/2013", jan07), ("1/8/2013", jan08), ("1/9/2013", jan09),
             ("1/10/2013", jan10), ("1/11/2013", jan11), ("1/12/2013", jan12),
             ("1/13/2013", jan13), ("1/14/2013", jan14), ("1/15/2013", jan15)]
fig5_days = [("1/16/2013", jan16), ("1/17/2013", jan17), ("1/18/2013", jan18),
             ("1/19/2013", jan19), ("1/20/2013", jan20), ("1/21/2013", jan21),
             ("1/22/2013", jan22), ("1/23/2013", jan23), ("1/24/2013", jan24)]

hour_ticks = [0, 6, 12, 18, 24]
seeing_ticks = [0, 0.3, 0.6, 0.9, 1.2, 1.5]
caption4 = "（図４）時系列に並べたドームふじでのシーイング観測結果。"
caption5 = "（図５）時系列に並べたドームふじでのシーイング観測結果。"

# the page body adds an 8px margin, so the figure is drawn smaller to fit the window
OFF = 8
W, H = 650 - OFF, 890 - 2 * OFF
cols = [(46, 242), (242, 440), (440, 638)]
rows4 = [(23, 114), (114, 207), (207, 299), (299, 392)]
rows5 = [(514, 607), (607, 699), (699, 791)]


def px(x):
    return (x - OFF) / W


def py(y):
    return 1 - (y - OFF) / H


fig = go.Figure()
axis_line = "#3c3c3c"
sans = "Lato, 'Open Sans', sans-serif"
tick_font = dict(family=sans, size=12.5, color="#222")
annotations = []
n = 0

for days, rows in [(fig4_days, rows4), (fig5_days, rows5)]:
    for k, (label, pts) in enumerate(days):
        r, c = divmod(k, 3)
        n += 1
        x0, x1 = cols[c]
        y0, y1 = rows[r]
        last_row = r == len(rows) - 1
        fig.add_trace(go.Scatter(
            x=[p[0] for p in pts], y=[p[1] for p in pts], mode="markers",
            xaxis=f"x{n}", yaxis=f"y{n}", showlegend=False, hoverinfo="skip",
            marker=dict(symbol="x-thin", size=4, color="#e8151e",
                        line=dict(width=1, color="#e8151e")),
        ))
        xt = ["0", "6", "12", "18", "24" if c == 2 else ""]
        yt = ["0.0", "0.3", "0.6", "0.9", "1.2", "1.5" if r == 0 else ""]
        fig.layout[f"xaxis{n}"] = dict(
            domain=[px(x0), px(x1)], range=[0, 24], anchor=f"y{n}",
            tickvals=hour_ticks, ticktext=xt, showticklabels=last_row,
            ticks="inside", ticklen=5, tickwidth=1.2, tickcolor=axis_line,
            showline=True, linecolor=axis_line, linewidth=1.3, mirror="ticks",
            showgrid=False, zeroline=False, tickfont=tick_font, fixedrange=True)
        fig.layout[f"yaxis{n}"] = dict(
            domain=[py(y1), py(y0)], range=[0, 1.5], anchor=f"x{n}",
            tickvals=seeing_ticks, ticktext=yt, showticklabels=(c == 0),
            ticks="inside", ticklen=5, tickwidth=1.2, tickcolor=axis_line,
            showline=True, linecolor=axis_line, linewidth=1.3, mirror="ticks",
            showgrid=False, zeroline=False, tickfont=tick_font, fixedrange=True)
        annotations.append(dict(
            text=label, x=px(x1 - 11), y=py(y0 + 13), xref="paper", yref="paper",
            xanchor="right", yanchor="middle", showarrow=False,
            font=dict(family=sans, size=12.5, color="#222")))

    mid = (rows[0][0] + rows[-1][1]) / 2
    annotations.append(dict(
        text="Seeing (arcsec)", x=px(16), y=py(mid), xref="paper", yref="paper",
        textangle=-90, showarrow=False, xanchor="center", yanchor="middle",
        font=dict(family=sans, size=12.5, color="#222")))
    annotations.append(dict(
        text="Local Time (UTC+3)", x=px(341), y=py(rows[-1][1] + 29), xref="paper", yref="paper",
        showarrow=False, xanchor="center", yanchor="middle",
        font=dict(family=sans, size=12.5, color="#222")))

for cap, yc in [(caption4, 455), (caption5, 848)]:
    annotations.append(dict(
        text=cap + "<span style='font-size:9px;color:#999'> ↵</span>",
        x=px(9), y=py(yc), xref="paper", yref="paper",
        xanchor="left", yanchor="middle", showarrow=False,
        font=dict(family="Noto Sans CJK JP", size=17.5, color="#1a1a1a", weight=300)))

fig.update_layout(
    width=W, height=H, autosize=False,
    margin=dict(l=0, r=0, t=0, b=0),
    paper_bgcolor="white", plot_bgcolor="white",
    annotations=annotations, showlegend=False,
)

fig.write_html("out.html")
